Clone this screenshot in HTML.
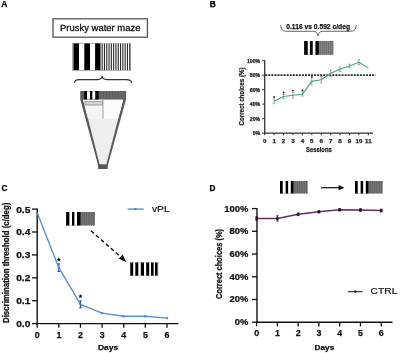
<!DOCTYPE html><html><head><meta charset="utf-8"><style>html,body{margin:0;padding:0;background:#fff;width:400px;height:353px;overflow:hidden}svg{display:block;filter:blur(0.35px)}</style></head><body>
<svg width="400" height="353" viewBox="0 0 400 353" style="font-family:'Liberation Sans',sans-serif">
<rect width="400" height="353" fill="#fff"/>
<text x="1.2" y="7.2" font-size="8.4" font-weight="bold" text-anchor="start" fill="#000" stroke="#000" stroke-width="0.25">A</text>
<rect x="53" y="18.8" width="94.4" height="18.4" fill="#fff" stroke="#555" stroke-width="1.3"/>
<text x="60" y="31.2" font-size="9.4" text-anchor="start" textLength="80.5" lengthAdjust="spacingAndGlyphs" fill="#111" stroke="#111" stroke-width="0.3">Prusky water maze</text>
<rect x="72.6" y="43.3" width="58" height="27" fill="#fff" stroke="#999" stroke-width="0.8"/>
<rect x="73.4" y="43.5" width="5.599999999999994" height="26.6" fill="#000"/>
<rect x="84.3" y="43.5" width="5.700000000000003" height="26.6" fill="#000"/>
<rect x="95.1" y="43.5" width="5.6000000000000085" height="26.6" fill="#000"/>
<rect x="100.7" y="43.5" width="29.6" height="26.6" fill="#fff"/>
<rect x="101.60" y="43.5" width="1.1" height="26.6" fill="#2a2a2a"/>
<rect x="103.90" y="43.5" width="1.1" height="26.6" fill="#2a2a2a"/>
<rect x="106.20" y="43.5" width="1.1" height="26.6" fill="#2a2a2a"/>
<rect x="108.50" y="43.5" width="1.1" height="26.6" fill="#2a2a2a"/>
<rect x="110.80" y="43.5" width="1.1" height="26.6" fill="#2a2a2a"/>
<rect x="113.10" y="43.5" width="1.1" height="26.6" fill="#2a2a2a"/>
<rect x="115.40" y="43.5" width="1.1" height="26.6" fill="#2a2a2a"/>
<rect x="117.70" y="43.5" width="1.1" height="26.6" fill="#2a2a2a"/>
<rect x="120.00" y="43.5" width="1.1" height="26.6" fill="#2a2a2a"/>
<rect x="122.30" y="43.5" width="1.1" height="26.6" fill="#2a2a2a"/>
<rect x="124.60" y="43.5" width="1.1" height="26.6" fill="#2a2a2a"/>
<rect x="126.90" y="43.5" width="1.1" height="26.6" fill="#2a2a2a"/>
<rect x="129.20" y="43.5" width="1.1" height="26.6" fill="#2a2a2a"/>
<path d="M74.5,83 C74.5,80.2 76,79.6 79,79.6 L97.5,79.6 C100.5,79.6 101.8,78.6 102.2,76.2 C102.6,78.6 103.9,79.6 106.9,79.6 L126.5,79.6 C129.5,79.6 131.5,80.2 131.5,83" fill="none" stroke="#333" stroke-width="1.1"/>
<defs><clipPath id="fin"><polygon points="83.0,99.3 123.3,99.3 106.3,164.4 99.7,164.4"/></clipPath></defs>
<polygon points="80.2,99.0 126.1,99.0 107.9,165.2 98.1,165.2" fill="#5a5a5a"/>
<polygon points="83.0,99.3 123.3,99.3 106.3,164.4 99.7,164.4" fill="#eeeeee"/>
<g clip-path="url(#fin)"><rect x="82" y="99.3" width="21" height="19.3" fill="#f5f5f5"/><rect x="103.3" y="99.3" width="22" height="19.3" fill="#fbfbfb"/></g>
<rect x="80.2" y="91.0" width="45.9" height="8.4" fill="#5e5e5e"/>
<rect x="84.2" y="91.0" width="2.80" height="8.4" fill="#000"/>
<rect x="89.9" y="91.0" width="2.50" height="8.4" fill="#000"/>
<rect x="95.2" y="91.0" width="3.40" height="8.4" fill="#000"/>
<rect x="87.0" y="91.3" width="2.90" height="7.6" fill="#fff"/>
<rect x="92.4" y="91.3" width="2.80" height="7.6" fill="#fff"/>
<rect x="101.5" y="91.0" width="0.9" height="8.4" fill="#777"/>
<rect x="104.5" y="91.0" width="0.9" height="8.4" fill="#777"/>
<rect x="107.5" y="91.0" width="0.9" height="8.4" fill="#777"/>
<rect x="110.5" y="91.0" width="0.9" height="8.4" fill="#777"/>
<rect x="113.5" y="91.0" width="0.9" height="8.4" fill="#777"/>
<rect x="116.5" y="91.0" width="0.9" height="8.4" fill="#777"/>
<rect x="119.5" y="91.0" width="0.9" height="8.4" fill="#777"/>
<rect x="122.5" y="91.0" width="0.9" height="8.4" fill="#777"/>
<rect x="85.0" y="101.8" width="17.4" height="3.2" fill="#d8d8d8" stroke="#7a7a7a" stroke-width="0.7"/>
<line x1="103.0" y1="99.5" x2="103.0" y2="118.6" stroke="#999" stroke-width="0.9"/>
<rect x="98.1" y="164.6" width="9.6" height="4.4" fill="#555"/>
<text x="209.8" y="7.2" font-size="8.4" font-weight="bold" text-anchor="start" fill="#000" stroke="#000" stroke-width="0.25">B</text>
<path d="M280.7,25.2 C281.2,29.6 282.8,31.3 286.5,31.3 L312.5,31.3 C316.2,31.3 317.4,32.6 318,35.9 C318.6,32.6 319.8,31.3 323.5,31.3 L350.5,31.3 C354.2,31.3 355.8,29.6 356.3,25.2" fill="none" stroke="#555" stroke-width="0.9"/>
<text x="286.2" y="28.7" font-size="7.4" font-weight="bold" text-anchor="start" textLength="63.8" lengthAdjust="spacingAndGlyphs" fill="#111" stroke="#111" stroke-width="0.25">0.116 vs 0.592 c/deg</text>
<rect x="304.3" y="41" width="28.9" height="13.8" fill="#858585"/>
<rect x="304.2" y="41" width="3.60" height="13.8" fill="#000"/>
<rect x="309.8" y="41" width="3.00" height="13.8" fill="#000"/>
<rect x="315.3" y="41" width="3.50" height="13.8" fill="#000"/>
<rect x="307.8" y="41" width="2.00" height="13.8" fill="#fff"/>
<rect x="312.8" y="41" width="2.50" height="13.8" fill="#fff"/>
<rect x="319.80" y="41" width="0.9" height="13.8" fill="#6a6a6a"/>
<rect x="321.90" y="41" width="0.9" height="13.8" fill="#6a6a6a"/>
<rect x="324.00" y="41" width="0.9" height="13.8" fill="#6a6a6a"/>
<rect x="326.10" y="41" width="0.9" height="13.8" fill="#6a6a6a"/>
<rect x="328.20" y="41" width="0.9" height="13.8" fill="#6a6a6a"/>
<rect x="330.30" y="41" width="0.9" height="13.8" fill="#6a6a6a"/>
<rect x="332.40" y="41" width="0.9" height="13.8" fill="#6a6a6a"/>
<line x1="264.7" y1="60.2" x2="264.7" y2="133.7" stroke="#333" stroke-width="1.3"/>
<line x1="264.09999999999997" y1="133.1" x2="373" y2="133.1" stroke="#333" stroke-width="1.3"/>
<line x1="262.09999999999997" y1="133.10" x2="264.7" y2="133.10" stroke="#222" stroke-width="0.9"/>
<text x="260.2" y="135.0" font-size="5.2" font-weight="bold" text-anchor="end" fill="#222" stroke="#222" stroke-width="0.25">0%</text>
<line x1="262.09999999999997" y1="118.62" x2="264.7" y2="118.62" stroke="#222" stroke-width="0.9"/>
<text x="260.2" y="120.52" font-size="5.2" font-weight="bold" text-anchor="end" fill="#222" stroke="#222" stroke-width="0.25">20%</text>
<line x1="262.09999999999997" y1="104.14" x2="264.7" y2="104.14" stroke="#222" stroke-width="0.9"/>
<text x="260.2" y="106.03999999999999" font-size="5.2" font-weight="bold" text-anchor="end" fill="#222" stroke="#222" stroke-width="0.25">40%</text>
<line x1="262.09999999999997" y1="89.66" x2="264.7" y2="89.66" stroke="#222" stroke-width="0.9"/>
<text x="260.2" y="91.56" font-size="5.2" font-weight="bold" text-anchor="end" fill="#222" stroke="#222" stroke-width="0.25">60%</text>
<line x1="262.09999999999997" y1="75.18" x2="264.7" y2="75.18" stroke="#222" stroke-width="0.9"/>
<text x="260.2" y="77.08" font-size="5.2" font-weight="bold" text-anchor="end" fill="#222" stroke="#222" stroke-width="0.25">80%</text>
<line x1="262.09999999999997" y1="60.70" x2="264.7" y2="60.70" stroke="#222" stroke-width="0.9"/>
<text x="260.2" y="62.6" font-size="5.2" font-weight="bold" text-anchor="end" fill="#222" stroke="#222" stroke-width="0.25">100%</text>
<line x1="264.70" y1="133.1" x2="264.70" y2="135.29999999999998" stroke="#222" stroke-width="0.9"/>
<text x="264.7" y="142.5" font-size="6.2" font-weight="bold" text-anchor="middle" fill="#222" stroke="#222" stroke-width="0.25">0</text>
<line x1="274.12" y1="133.1" x2="274.12" y2="135.29999999999998" stroke="#222" stroke-width="0.9"/>
<text x="274.12" y="142.5" font-size="6.2" font-weight="bold" text-anchor="middle" fill="#222" stroke="#222" stroke-width="0.25">1</text>
<line x1="283.54" y1="133.1" x2="283.54" y2="135.29999999999998" stroke="#222" stroke-width="0.9"/>
<text x="283.54" y="142.5" font-size="6.2" font-weight="bold" text-anchor="middle" fill="#222" stroke="#222" stroke-width="0.25">2</text>
<line x1="292.96" y1="133.1" x2="292.96" y2="135.29999999999998" stroke="#222" stroke-width="0.9"/>
<text x="292.96" y="142.5" font-size="6.2" font-weight="bold" text-anchor="middle" fill="#222" stroke="#222" stroke-width="0.25">3</text>
<line x1="302.38" y1="133.1" x2="302.38" y2="135.29999999999998" stroke="#222" stroke-width="0.9"/>
<text x="302.38" y="142.5" font-size="6.2" font-weight="bold" text-anchor="middle" fill="#222" stroke="#222" stroke-width="0.25">4</text>
<line x1="311.80" y1="133.1" x2="311.80" y2="135.29999999999998" stroke="#222" stroke-width="0.9"/>
<text x="311.8" y="142.5" font-size="6.2" font-weight="bold" text-anchor="middle" fill="#222" stroke="#222" stroke-width="0.25">5</text>
<line x1="321.22" y1="133.1" x2="321.22" y2="135.29999999999998" stroke="#222" stroke-width="0.9"/>
<text x="321.22" y="142.5" font-size="6.2" font-weight="bold" text-anchor="middle" fill="#222" stroke="#222" stroke-width="0.25">6</text>
<line x1="330.64" y1="133.1" x2="330.64" y2="135.29999999999998" stroke="#222" stroke-width="0.9"/>
<text x="330.64" y="142.5" font-size="6.2" font-weight="bold" text-anchor="middle" fill="#222" stroke="#222" stroke-width="0.25">7</text>
<line x1="340.06" y1="133.1" x2="340.06" y2="135.29999999999998" stroke="#222" stroke-width="0.9"/>
<text x="340.06" y="142.5" font-size="6.2" font-weight="bold" text-anchor="middle" fill="#222" stroke="#222" stroke-width="0.25">8</text>
<line x1="349.48" y1="133.1" x2="349.48" y2="135.29999999999998" stroke="#222" stroke-width="0.9"/>
<text x="349.48" y="142.5" font-size="6.2" font-weight="bold" text-anchor="middle" fill="#222" stroke="#222" stroke-width="0.25">9</text>
<line x1="358.90" y1="133.1" x2="358.90" y2="135.29999999999998" stroke="#222" stroke-width="0.9"/>
<text x="358.9" y="142.5" font-size="6.2" font-weight="bold" text-anchor="middle" fill="#222" stroke="#222" stroke-width="0.25">10</text>
<line x1="368.32" y1="133.1" x2="368.32" y2="135.29999999999998" stroke="#222" stroke-width="0.9"/>
<text x="368.32" y="142.5" font-size="6.2" font-weight="bold" text-anchor="middle" fill="#222" stroke="#222" stroke-width="0.25">11</text>
<text x="318.9" y="151.8" font-size="7.4" font-weight="bold" text-anchor="middle" textLength="25.8" lengthAdjust="spacingAndGlyphs" fill="#1a1a1a" stroke="#1a1a1a" stroke-width="0.25">Sessions</text>
<text x="244.4" y="96.5" font-size="6.8" font-weight="bold" text-anchor="middle" textLength="58" lengthAdjust="spacingAndGlyphs" transform="rotate(-90 244.4 96.5)" fill="#222" stroke="#222" stroke-width="0.25">Correct choices (%)</text>
<line x1="265.3" y1="75.1" x2="375.5" y2="75.1" stroke="#2a2a2a" stroke-width="1.6" stroke-dasharray="2.0 1.05"/>
<line x1="274.12" y1="98.89999999999999" x2="274.12" y2="103.7" stroke="#777" stroke-width="0.7"/>
<line x1="272.92" y1="98.89999999999999" x2="275.32" y2="98.89999999999999" stroke="#777" stroke-width="0.6"/>
<line x1="272.92" y1="103.7" x2="275.32" y2="103.7" stroke="#777" stroke-width="0.6"/>
<line x1="283.54" y1="94.3" x2="283.54" y2="98.7" stroke="#777" stroke-width="0.7"/>
<line x1="282.34" y1="94.3" x2="284.74" y2="94.3" stroke="#777" stroke-width="0.6"/>
<line x1="282.34" y1="98.7" x2="284.74" y2="98.7" stroke="#777" stroke-width="0.6"/>
<line x1="292.96" y1="92.2" x2="292.96" y2="98.2" stroke="#777" stroke-width="0.7"/>
<line x1="291.76" y1="92.2" x2="294.16" y2="92.2" stroke="#777" stroke-width="0.6"/>
<line x1="291.76" y1="98.2" x2="294.16" y2="98.2" stroke="#777" stroke-width="0.6"/>
<line x1="302.38" y1="92.2" x2="302.38" y2="96.2" stroke="#777" stroke-width="0.7"/>
<line x1="301.18" y1="92.2" x2="303.58" y2="92.2" stroke="#777" stroke-width="0.6"/>
<line x1="301.18" y1="96.2" x2="303.58" y2="96.2" stroke="#777" stroke-width="0.6"/>
<line x1="311.80" y1="77.9" x2="311.80" y2="84.9" stroke="#777" stroke-width="0.7"/>
<line x1="310.60" y1="77.9" x2="313.00" y2="77.9" stroke="#777" stroke-width="0.6"/>
<line x1="310.60" y1="84.9" x2="313.00" y2="84.9" stroke="#777" stroke-width="0.6"/>
<line x1="321.22" y1="76.5" x2="321.22" y2="82.9" stroke="#777" stroke-width="0.7"/>
<line x1="320.02" y1="76.5" x2="322.42" y2="76.5" stroke="#777" stroke-width="0.6"/>
<line x1="320.02" y1="82.9" x2="322.42" y2="82.9" stroke="#777" stroke-width="0.6"/>
<line x1="330.64" y1="70.0" x2="330.64" y2="76.4" stroke="#777" stroke-width="0.7"/>
<line x1="329.44" y1="70.0" x2="331.84" y2="70.0" stroke="#777" stroke-width="0.6"/>
<line x1="329.44" y1="76.4" x2="331.84" y2="76.4" stroke="#777" stroke-width="0.6"/>
<line x1="340.06" y1="67.0" x2="340.06" y2="71.4" stroke="#777" stroke-width="0.7"/>
<line x1="338.86" y1="67.0" x2="341.26" y2="67.0" stroke="#777" stroke-width="0.6"/>
<line x1="338.86" y1="71.4" x2="341.26" y2="71.4" stroke="#777" stroke-width="0.6"/>
<line x1="349.48" y1="64.10000000000001" x2="349.48" y2="67.7" stroke="#777" stroke-width="0.7"/>
<line x1="348.28" y1="64.10000000000001" x2="350.68" y2="64.10000000000001" stroke="#777" stroke-width="0.6"/>
<line x1="348.28" y1="67.7" x2="350.68" y2="67.7" stroke="#777" stroke-width="0.6"/>
<line x1="358.90" y1="59.7" x2="358.90" y2="64.7" stroke="#777" stroke-width="0.7"/>
<line x1="357.70" y1="59.7" x2="360.10" y2="59.7" stroke="#777" stroke-width="0.6"/>
<line x1="357.70" y1="64.7" x2="360.10" y2="64.7" stroke="#777" stroke-width="0.6"/>
<polyline points="274.12,101.3 283.54,96.5 292.96,95.2 302.38,94.2 311.80,81.4 321.22,79.7 330.64,73.2 340.06,69.2 349.48,65.9 358.90,62.2 368.32,67.9" fill="none" stroke="#46a386" stroke-width="1.1" stroke-linejoin="round"/>
<circle cx="274.12" cy="97.0" r="0.9" fill="#222"/>
<circle cx="283.54" cy="92.5" r="0.9" fill="#222"/>
<circle cx="292.96" cy="90.6" r="0.9" fill="#222"/>
<circle cx="302.38" cy="90.5" r="0.9" fill="#222"/>
<circle cx="311.80" cy="76.8" r="0.9" fill="#222"/>
<text x="1.4" y="191.1" font-size="8.2" font-weight="bold" text-anchor="start" fill="#000" stroke="#000" stroke-width="0.25">C</text>
<line x1="37.2" y1="208.6" x2="37.2" y2="324.3" stroke="#111" stroke-width="1.4"/>
<line x1="36.5" y1="323.6" x2="178.5" y2="323.6" stroke="#111" stroke-width="1.4"/>
<line x1="32" y1="323.60" x2="37.2" y2="323.60" stroke="#111" stroke-width="1.3"/>
<text x="30.4" y="327.0" font-size="8.2" font-weight="bold" text-anchor="end" textLength="14.2" lengthAdjust="spacingAndGlyphs" fill="#111" stroke="#111" stroke-width="0.25">0.0</text>
<line x1="32" y1="300.70" x2="37.2" y2="300.70" stroke="#111" stroke-width="1.3"/>
<text x="30.4" y="304.1" font-size="8.2" font-weight="bold" text-anchor="end" textLength="14.2" lengthAdjust="spacingAndGlyphs" fill="#111" stroke="#111" stroke-width="0.25">0.1</text>
<line x1="32" y1="277.80" x2="37.2" y2="277.80" stroke="#111" stroke-width="1.3"/>
<text x="30.4" y="281.2" font-size="8.2" font-weight="bold" text-anchor="end" textLength="14.2" lengthAdjust="spacingAndGlyphs" fill="#111" stroke="#111" stroke-width="0.25">0.2</text>
<line x1="32" y1="254.90" x2="37.2" y2="254.90" stroke="#111" stroke-width="1.3"/>
<text x="30.4" y="258.3" font-size="8.2" font-weight="bold" text-anchor="end" textLength="14.2" lengthAdjust="spacingAndGlyphs" fill="#111" stroke="#111" stroke-width="0.25">0.3</text>
<line x1="32" y1="232.00" x2="37.2" y2="232.00" stroke="#111" stroke-width="1.3"/>
<text x="30.4" y="235.4" font-size="8.2" font-weight="bold" text-anchor="end" textLength="14.2" lengthAdjust="spacingAndGlyphs" fill="#111" stroke="#111" stroke-width="0.25">0.4</text>
<line x1="32" y1="209.10" x2="37.2" y2="209.10" stroke="#111" stroke-width="1.3"/>
<text x="30.4" y="212.5" font-size="8.2" font-weight="bold" text-anchor="end" textLength="14.2" lengthAdjust="spacingAndGlyphs" fill="#111" stroke="#111" stroke-width="0.25">0.5</text>
<line x1="37.20" y1="323.6" x2="37.20" y2="327.8" stroke="#111" stroke-width="1.3"/>
<text x="37.2" y="337.8" font-size="8.8" font-weight="bold" text-anchor="middle" fill="#111" stroke="#111" stroke-width="0.25">0</text>
<line x1="58.83" y1="323.6" x2="58.83" y2="327.8" stroke="#111" stroke-width="1.3"/>
<text x="58.83" y="337.8" font-size="8.8" font-weight="bold" text-anchor="middle" fill="#111" stroke="#111" stroke-width="0.25">1</text>
<line x1="80.46" y1="323.6" x2="80.46" y2="327.8" stroke="#111" stroke-width="1.3"/>
<text x="80.46" y="337.8" font-size="8.8" font-weight="bold" text-anchor="middle" fill="#111" stroke="#111" stroke-width="0.25">2</text>
<line x1="102.09" y1="323.6" x2="102.09" y2="327.8" stroke="#111" stroke-width="1.3"/>
<text x="102.09" y="337.8" font-size="8.8" font-weight="bold" text-anchor="middle" fill="#111" stroke="#111" stroke-width="0.25">3</text>
<line x1="123.72" y1="323.6" x2="123.72" y2="327.8" stroke="#111" stroke-width="1.3"/>
<text x="123.72" y="337.8" font-size="8.8" font-weight="bold" text-anchor="middle" fill="#111" stroke="#111" stroke-width="0.25">4</text>
<line x1="145.35" y1="323.6" x2="145.35" y2="327.8" stroke="#111" stroke-width="1.3"/>
<text x="145.35" y="337.8" font-size="8.8" font-weight="bold" text-anchor="middle" fill="#111" stroke="#111" stroke-width="0.25">5</text>
<line x1="166.98" y1="323.6" x2="166.98" y2="327.8" stroke="#111" stroke-width="1.3"/>
<text x="166.98" y="337.8" font-size="8.8" font-weight="bold" text-anchor="middle" fill="#111" stroke="#111" stroke-width="0.25">6</text>
<text x="108" y="350.3" font-size="7.6" font-weight="bold" text-anchor="middle" textLength="20.2" lengthAdjust="spacingAndGlyphs" fill="#111" stroke="#111" stroke-width="0.25">Days</text>
<text x="8.9" y="262.8" font-size="8.4" font-weight="bold" text-anchor="middle" textLength="120.4" lengthAdjust="spacingAndGlyphs" transform="rotate(-90 8.9 262.8)" fill="#111" stroke="#111" stroke-width="0.25">Discrimination threshold (c/deg)</text>
<line x1="58.83" y1="263.9" x2="58.83" y2="271.5" stroke="#23457f" stroke-width="1.0"/>
<line x1="57.53" y1="263.9" x2="60.13" y2="263.9" stroke="#23457f" stroke-width="1.0"/>
<line x1="57.53" y1="271.5" x2="60.13" y2="271.5" stroke="#23457f" stroke-width="1.0"/>
<line x1="80.46" y1="301.0" x2="80.46" y2="307.79999999999995" stroke="#23457f" stroke-width="1.0"/>
<line x1="79.16" y1="301.0" x2="81.76" y2="301.0" stroke="#23457f" stroke-width="1.0"/>
<line x1="79.16" y1="307.79999999999995" x2="81.76" y2="307.79999999999995" stroke="#23457f" stroke-width="1.0"/>
<polyline points="37.20,212.7 58.83,267.7 80.46,304.4 102.09,313.1 123.72,316.3 145.35,316.3 166.98,318.1" fill="none" stroke="#5a90da" stroke-width="1.4" stroke-linejoin="round"/>
<rect x="57.73" y="266.59999999999997" width="2.2" height="2.2" fill="#4a7cc4" opacity="0.8"/>
<rect x="79.36" y="303.29999999999995" width="2.2" height="2.2" fill="#4a7cc4" opacity="0.8"/>
<rect x="100.99" y="312.0" width="2.2" height="2.2" fill="#4a7cc4" opacity="0.8"/>
<rect x="122.62" y="315.2" width="2.2" height="2.2" fill="#4a7cc4" opacity="0.8"/>
<rect x="144.25" y="315.2" width="2.2" height="2.2" fill="#4a7cc4" opacity="0.8"/>
<rect x="165.88" y="317.0" width="2.2" height="2.2" fill="#4a7cc4" opacity="0.8"/>
<polygon points="58.83,257.30 59.44,258.76 61.02,258.89 59.81,259.92 60.18,261.46 58.83,260.64 57.48,261.46 57.85,259.92 56.64,258.89 58.22,258.76" fill="#111"/>
<polygon points="80.46,294.00 81.07,295.46 82.65,295.59 81.44,296.62 81.81,298.16 80.46,297.34 79.11,298.16 79.48,296.62 78.27,295.59 79.85,295.46" fill="#111"/>
<rect x="66.2" y="212" width="28.8" height="13.5" fill="#767676"/>
<rect x="66.2" y="212" width="3.299999999999997" height="13.5" fill="#000"/>
<rect x="72" y="212" width="2.5" height="13.5" fill="#000"/>
<rect x="77" y="212" width="3.5" height="13.5" fill="#000"/>
<rect x="69.5" y="212" width="2.5" height="13.5" fill="#fff"/>
<rect x="74.5" y="212" width="2.5" height="13.5" fill="#fff"/>
<rect x="81.60" y="212" width="0.8" height="13.5" fill="#5e5e5e"/>
<rect x="83.90" y="212" width="0.8" height="13.5" fill="#5e5e5e"/>
<rect x="86.20" y="212" width="0.8" height="13.5" fill="#5e5e5e"/>
<rect x="88.50" y="212" width="0.8" height="13.5" fill="#5e5e5e"/>
<rect x="90.80" y="212" width="0.8" height="13.5" fill="#5e5e5e"/>
<rect x="93.10" y="212" width="0.8" height="13.5" fill="#5e5e5e"/>
<line x1="91" y1="230.8" x2="122" y2="258" stroke="#111" stroke-width="1.4" stroke-dasharray="4.0 2.6"/>
<polygon points="126.3,262.2 118.8,258.8 122.6,254.6" fill="#111"/>
<rect x="130" y="262.5" width="28.8" height="13.2" fill="#fff" stroke="#bbb" stroke-width="0.4"/>
<rect x="130.3" y="262.5" width="2.8999999999999773" height="13.2" fill="#000"/>
<rect x="135.3" y="262.5" width="3.0" height="13.2" fill="#000"/>
<rect x="140.8" y="262.5" width="3.1999999999999886" height="13.2" fill="#000"/>
<rect x="146.2" y="262.5" width="3.0" height="13.2" fill="#000"/>
<rect x="151.0" y="262.5" width="2.5999999999999943" height="13.2" fill="#000"/>
<rect x="155.0" y="262.5" width="2.5999999999999943" height="13.2" fill="#000"/>
<line x1="127.5" y1="209.1" x2="143.6" y2="209.1" stroke="#5b8ed8" stroke-width="1.4"/>
<rect x="134.3" y="208" width="2.2" height="2.2" fill="#4a7cc4"/>
<text x="152" y="212.1" font-size="9.2" text-anchor="start" textLength="17.6" lengthAdjust="spacingAndGlyphs" fill="#111" stroke="#111" stroke-width="0.2">vPL</text>
<text x="209.6" y="191.1" font-size="8.2" font-weight="bold" text-anchor="start" fill="#000" stroke="#000" stroke-width="0.25">D</text>
<line x1="257.0" y1="208.2" x2="257.0" y2="322.9" stroke="#111" stroke-width="1.4"/>
<line x1="256.3" y1="322.2" x2="392.5" y2="322.2" stroke="#111" stroke-width="1.4"/>
<line x1="252" y1="322.20" x2="257.0" y2="322.20" stroke="#111" stroke-width="1.3"/>
<text x="0" y="0" font-size="8.4" font-weight="bold" text-anchor="end" transform="translate(248.4 325.2) scale(1.12 1)" fill="#111" stroke="#111" stroke-width="0.25">0%</text>
<line x1="252" y1="299.48" x2="257.0" y2="299.48" stroke="#111" stroke-width="1.3"/>
<text x="0" y="0" font-size="8.4" font-weight="bold" text-anchor="end" transform="translate(248.4 302.48) scale(1.12 1)" fill="#111" stroke="#111" stroke-width="0.25">20%</text>
<line x1="252" y1="276.76" x2="257.0" y2="276.76" stroke="#111" stroke-width="1.3"/>
<text x="0" y="0" font-size="8.4" font-weight="bold" text-anchor="end" transform="translate(248.4 279.76) scale(1.12 1)" fill="#111" stroke="#111" stroke-width="0.25">40%</text>
<line x1="252" y1="254.04" x2="257.0" y2="254.04" stroke="#111" stroke-width="1.3"/>
<text x="0" y="0" font-size="8.4" font-weight="bold" text-anchor="end" transform="translate(248.4 257.04) scale(1.12 1)" fill="#111" stroke="#111" stroke-width="0.25">60%</text>
<line x1="252" y1="231.32" x2="257.0" y2="231.32" stroke="#111" stroke-width="1.3"/>
<text x="0" y="0" font-size="8.4" font-weight="bold" text-anchor="end" transform="translate(248.4 234.32) scale(1.12 1)" fill="#111" stroke="#111" stroke-width="0.25">80%</text>
<line x1="252" y1="208.60" x2="257.0" y2="208.60" stroke="#111" stroke-width="1.3"/>
<text x="0" y="0" font-size="8.4" font-weight="bold" text-anchor="end" transform="translate(248.4 211.6) scale(1.12 1)" fill="#111" stroke="#111" stroke-width="0.25">100%</text>
<line x1="256.60" y1="322.2" x2="256.60" y2="326.4" stroke="#111" stroke-width="1.3"/>
<text x="256.6" y="336.4" font-size="8.8" font-weight="bold" text-anchor="middle" fill="#111" stroke="#111" stroke-width="0.25">0</text>
<line x1="277.37" y1="322.2" x2="277.37" y2="326.4" stroke="#111" stroke-width="1.3"/>
<text x="277.37" y="336.4" font-size="8.8" font-weight="bold" text-anchor="middle" fill="#111" stroke="#111" stroke-width="0.25">1</text>
<line x1="298.14" y1="322.2" x2="298.14" y2="326.4" stroke="#111" stroke-width="1.3"/>
<text x="298.14" y="336.4" font-size="8.8" font-weight="bold" text-anchor="middle" fill="#111" stroke="#111" stroke-width="0.25">2</text>
<line x1="318.91" y1="322.2" x2="318.91" y2="326.4" stroke="#111" stroke-width="1.3"/>
<text x="318.91" y="336.4" font-size="8.8" font-weight="bold" text-anchor="middle" fill="#111" stroke="#111" stroke-width="0.25">3</text>
<line x1="339.68" y1="322.2" x2="339.68" y2="326.4" stroke="#111" stroke-width="1.3"/>
<text x="339.68" y="336.4" font-size="8.8" font-weight="bold" text-anchor="middle" fill="#111" stroke="#111" stroke-width="0.25">4</text>
<line x1="360.45" y1="322.2" x2="360.45" y2="326.4" stroke="#111" stroke-width="1.3"/>
<text x="360.45" y="336.4" font-size="8.8" font-weight="bold" text-anchor="middle" fill="#111" stroke="#111" stroke-width="0.25">5</text>
<line x1="381.22" y1="322.2" x2="381.22" y2="326.4" stroke="#111" stroke-width="1.3"/>
<text x="381.22" y="336.4" font-size="8.8" font-weight="bold" text-anchor="middle" fill="#111" stroke="#111" stroke-width="0.25">6</text>
<text x="324.4" y="350.3" font-size="7.6" font-weight="bold" text-anchor="middle" textLength="19.6" lengthAdjust="spacingAndGlyphs" fill="#111" stroke="#111" stroke-width="0.25">Days</text>
<text x="222.0" y="264" font-size="8.4" font-weight="bold" text-anchor="middle" textLength="70" lengthAdjust="spacingAndGlyphs" transform="rotate(-90 222.0 264)" fill="#111" stroke="#111" stroke-width="0.25">Correct choices (%)</text>
<line x1="256.60" y1="216.6" x2="256.60" y2="220.20000000000002" stroke="#2a1030" stroke-width="0.9"/>
<line x1="255.30" y1="216.6" x2="257.90" y2="216.6" stroke="#2a1030" stroke-width="0.8"/>
<line x1="255.30" y1="220.20000000000002" x2="257.90" y2="220.20000000000002" stroke="#2a1030" stroke-width="0.8"/>
<line x1="277.37" y1="215.8" x2="277.37" y2="221.0" stroke="#2a1030" stroke-width="0.9"/>
<line x1="276.07" y1="215.8" x2="278.67" y2="215.8" stroke="#2a1030" stroke-width="0.8"/>
<line x1="276.07" y1="221.0" x2="278.67" y2="221.0" stroke="#2a1030" stroke-width="0.8"/>
<line x1="298.14" y1="213.0" x2="298.14" y2="215.60000000000002" stroke="#2a1030" stroke-width="0.9"/>
<line x1="296.84" y1="213.0" x2="299.44" y2="213.0" stroke="#2a1030" stroke-width="0.8"/>
<line x1="296.84" y1="215.60000000000002" x2="299.44" y2="215.60000000000002" stroke="#2a1030" stroke-width="0.8"/>
<line x1="318.91" y1="210.5" x2="318.91" y2="212.89999999999998" stroke="#2a1030" stroke-width="0.9"/>
<line x1="317.61" y1="210.5" x2="320.21" y2="210.5" stroke="#2a1030" stroke-width="0.8"/>
<line x1="317.61" y1="212.89999999999998" x2="320.21" y2="212.89999999999998" stroke="#2a1030" stroke-width="0.8"/>
<line x1="339.68" y1="208.5" x2="339.68" y2="210.89999999999998" stroke="#2a1030" stroke-width="0.9"/>
<line x1="338.38" y1="208.5" x2="340.98" y2="208.5" stroke="#2a1030" stroke-width="0.8"/>
<line x1="338.38" y1="210.89999999999998" x2="340.98" y2="210.89999999999998" stroke="#2a1030" stroke-width="0.8"/>
<line x1="360.45" y1="208.6" x2="360.45" y2="211.4" stroke="#2a1030" stroke-width="0.9"/>
<line x1="359.15" y1="208.6" x2="361.75" y2="208.6" stroke="#2a1030" stroke-width="0.8"/>
<line x1="359.15" y1="211.4" x2="361.75" y2="211.4" stroke="#2a1030" stroke-width="0.8"/>
<line x1="381.22" y1="209.2" x2="381.22" y2="212.0" stroke="#2a1030" stroke-width="0.9"/>
<line x1="379.92" y1="209.2" x2="382.52" y2="209.2" stroke="#2a1030" stroke-width="0.8"/>
<line x1="379.92" y1="212.0" x2="382.52" y2="212.0" stroke="#2a1030" stroke-width="0.8"/>
<polyline points="256.60,218.4 277.37,218.4 298.14,214.3 318.91,211.7 339.68,209.7 360.45,210.0 381.22,210.6" fill="none" stroke="#6a2c5c" stroke-width="1.5" stroke-linejoin="round"/>
<circle cx="256.60" cy="218.4" r="1.5" fill="#2a1030"/>
<circle cx="277.37" cy="218.4" r="1.5" fill="#2a1030"/>
<circle cx="298.14" cy="214.3" r="1.5" fill="#2a1030"/>
<circle cx="318.91" cy="211.7" r="1.5" fill="#2a1030"/>
<circle cx="339.68" cy="209.7" r="1.5" fill="#2a1030"/>
<circle cx="360.45" cy="210.0" r="1.5" fill="#2a1030"/>
<circle cx="381.22" cy="210.6" r="1.5" fill="#2a1030"/>
<rect x="280.0" y="181" width="27.7" height="12.5" fill="#767676"/>
<rect x="280.00" y="181" width="2.80" height="12.5" fill="#000"/>
<rect x="285.50" y="181" width="2.70" height="12.5" fill="#000"/>
<rect x="290.70" y="181" width="2.70" height="12.5" fill="#000"/>
<rect x="282.80" y="181" width="2.70" height="12.5" fill="#fff"/>
<rect x="288.20" y="181" width="2.50" height="12.5" fill="#fff"/>
<rect x="294.60" y="181" width="0.8" height="12.5" fill="#5e5e5e"/>
<rect x="296.90" y="181" width="0.8" height="12.5" fill="#5e5e5e"/>
<rect x="299.20" y="181" width="0.8" height="12.5" fill="#5e5e5e"/>
<rect x="301.50" y="181" width="0.8" height="12.5" fill="#5e5e5e"/>
<rect x="303.80" y="181" width="0.8" height="12.5" fill="#5e5e5e"/>
<rect x="306.10" y="181" width="0.8" height="12.5" fill="#5e5e5e"/>
<rect x="355.0" y="181" width="27.7" height="12.5" fill="#767676"/>
<rect x="355.00" y="181" width="2.80" height="12.5" fill="#000"/>
<rect x="360.50" y="181" width="2.70" height="12.5" fill="#000"/>
<rect x="365.70" y="181" width="2.70" height="12.5" fill="#000"/>
<rect x="357.80" y="181" width="2.70" height="12.5" fill="#fff"/>
<rect x="363.20" y="181" width="2.50" height="12.5" fill="#fff"/>
<rect x="369.60" y="181" width="0.8" height="12.5" fill="#5e5e5e"/>
<rect x="371.90" y="181" width="0.8" height="12.5" fill="#5e5e5e"/>
<rect x="374.20" y="181" width="0.8" height="12.5" fill="#5e5e5e"/>
<rect x="376.50" y="181" width="0.8" height="12.5" fill="#5e5e5e"/>
<rect x="378.80" y="181" width="0.8" height="12.5" fill="#5e5e5e"/>
<rect x="381.10" y="181" width="0.8" height="12.5" fill="#5e5e5e"/>
<line x1="321" y1="187.7" x2="340" y2="187.7" stroke="#111" stroke-width="1.2"/>
<polygon points="344.4,187.7 338.6,184.9 338.6,190.5" fill="#111"/>
<line x1="348" y1="291.6" x2="362.4" y2="291.6" stroke="#6a2c5c" stroke-width="1.4"/>
<circle cx="355.3" cy="291.6" r="1.2" fill="#2a1030"/>
<text x="370.6" y="294.3" font-size="9.2" text-anchor="start" textLength="26.8" lengthAdjust="spacingAndGlyphs" fill="#111" stroke="#111" stroke-width="0.2">CTRL</text>
</svg></body></html>
